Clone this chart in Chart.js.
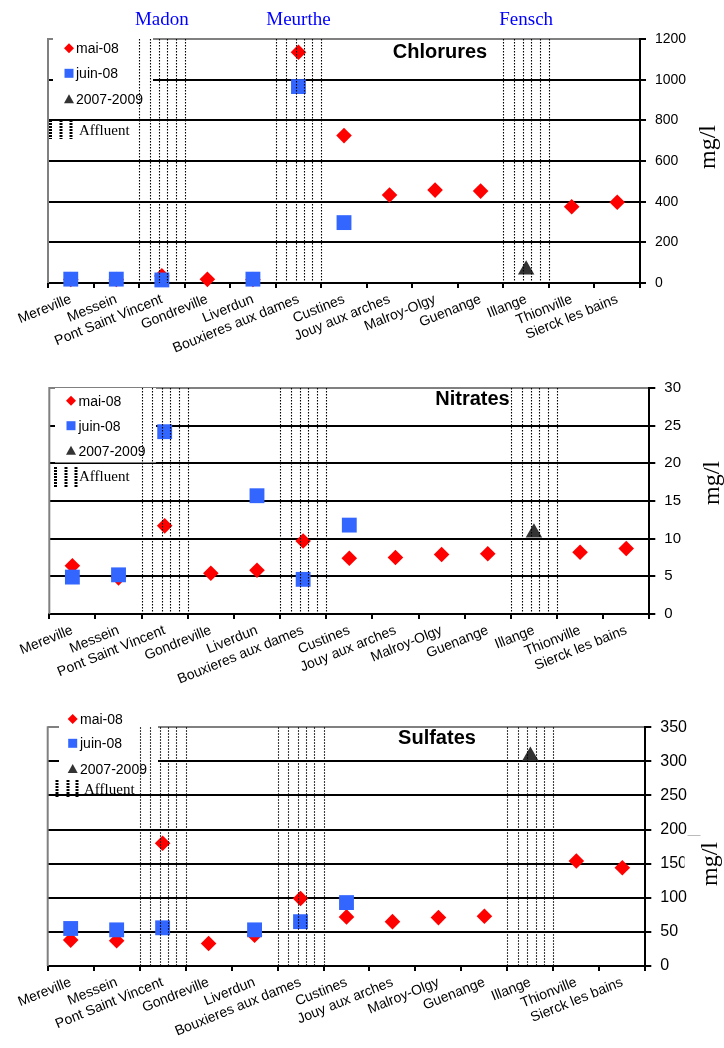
<!DOCTYPE html>
<html>
<head>
<meta charset="utf-8">
<script src="https://cdn.jsdelivr.net/npm/chart.js@4.4.0/dist/chart.umd.min.js"></script>
<style>
  html, body { margin: 0; padding: 0; background: #fff; }
  #page { position: relative; width: 724px; height: 1048px; }
  .panel { position: absolute; left: 0; width: 724px; }
</style>
</head>
<body>
<div id="page">
  <div class="panel" style="top:0;height:370px"><canvas id="chlorures"></canvas></div>
  <div class="panel" style="top:370px;height:330px"><canvas id="nitrates"></canvas></div>
  <div class="panel" style="top:700px;height:348px"><canvas id="sulfates"></canvas></div>
</div>
<script>
const SITES = [
  "Mereville", "Messein", "Pont Saint Vincent", "Gondreville", "Liverdun",
  "Bouxieres aux dames", "Custines", "Jouy aux arches", "Malroy-Olgy",
  "Guenange", "Illange", "Thionville", "Sierck les bains"
];
const SERIES_NAMES = ["mai-08", "juin-08", "2007-2009"];
const AFFLUENT_LABEL = "Affluent";
const RIVERS = ["Madon", "Meurthe", "Fensch"];
const RIVER_SITES = [2, 5, 10]; // tributary confluences (site index)

// Chlorures (mg/l)
const CHLORURES_MAI  = [17, 17, 35, 18, 17, 1135, 725, 433, 457, 452, null, 375, 397];
const CHLORURES_JUIN = [19, 19, 15, null, 19, 966, 297, null, null, null, null, null, null];
const CHLORURES_REF  = [null, null, null, null, null, null, null, null, null, null, 65, null, null];
const CHLORURES_TICKS = [0, 200, 400, 600, 800, 1000, 1200];

// Nitrates (mg/l)
const NITRATES_MAI  = [6.4, 4.8, 11.7, 5.4, 5.8, 9.7, 7.4, 7.5, 7.9, 8.0, null, 8.2, 8.7];
const NITRATES_JUIN = [4.9, 5.2, 24.2, null, 15.7, 4.6, 11.8, null, null, null, null, null, null];
const NITRATES_REF  = [null, null, null, null, null, null, null, null, null, null, 10.8, null, null];
const NITRATES_TICKS = [0, 5, 10, 15, 20, 25, 30];

// Sulfates (mg/l)
const SULFATES_MAI  = [38, 37, 180, 33, 45, 99, 72, 65, 71, 73, null, 154, 144];
const SULFATES_JUIN = [55, 53, 56, null, 53, 65, 93, null, null, null, null, null, null];
const SULFATES_REF  = [null, null, null, null, null, null, null, null, null, null, 308, null, null];
const SULFATES_TICKS = [0, 50, 100, 150, 200, 250, 300, 350];

const SANS = '"Liberation Sans", Arial, sans-serif';
const SERIF = '"Liberation Serif", "Times New Roman", serif';
const RED = '#ff0000';
const BLUE = '#3366ff';
const DARK = '#333333';
const DOT_FRACTIONS = [0, 0.235, 0.435, 0.615, 0.8, 1.0];

function marker(ctx, kind, x, y, r) {
  ctx.beginPath();
  if (kind === 'diamond') {
    ctx.fillStyle = RED;
    ctx.moveTo(x, y - r); ctx.lineTo(x + r, y); ctx.lineTo(x, y + r); ctx.lineTo(x - r, y);
  } else if (kind === 'square') {
    ctx.fillStyle = BLUE;
    ctx.rect(x - r, y - r, 2 * r, 2 * r);
  } else {
    ctx.fillStyle = DARK;
    ctx.moveTo(x, y - r); ctx.lineTo(x + r, y + r * 0.8); ctx.lineTo(x - r, y + r * 0.8);
  }
  ctx.closePath();
  ctx.fill();
}

const decorPlugin = {
  id: 'decor',
  beforeDatasetsDraw(chart, args, o) {
    const { ctx, chartArea: a } = chart;
    ctx.save();
    ctx.translate(0, -o.offsetY);
    const top = a.top + o.offsetY, bottom = a.bottom + o.offsetY;
    // grey left frame
    ctx.strokeStyle = '#808080';
    ctx.lineWidth = 2;
    ctx.beginPath(); ctx.moveTo(a.left, top - 1); ctx.lineTo(a.left, bottom); ctx.stroke();
    // legend box
    const L = o.legend;
    ctx.fillStyle = '#fff';
    ctx.fillRect(L.box[0], L.box[1], L.box[2] - L.box[0], L.box[3] - L.box[1]);
    const kinds = ['diamond', 'square', 'triangle'];
    const sizes = [5, 4.5, 5];
    ctx.font = '14px ' + SANS;
    ctx.textBaseline = 'middle';
    ctx.textAlign = 'left';
    SERIES_NAMES.forEach((name, i) => {
      marker(ctx, kinds[i], L.mx, L.ys[i], sizes[i]);
      ctx.fillStyle = '#000';
      ctx.fillText(name, L.tx, L.ys[i] + 1);
    });
    // affluent symbol
    ctx.strokeStyle = '#000';
    ctx.lineWidth = 3;
    ctx.setLineDash([2, 1]);
    L.ax.forEach(x => {
      ctx.beginPath(); ctx.moveTo(x, L.ay[0]); ctx.lineTo(x, L.ay[1]); ctx.stroke();
    });
    ctx.setLineDash([]);
    ctx.fillStyle = '#000';
    ctx.font = '15px ' + SERIF;
    ctx.fillText(AFFLUENT_LABEL, L.atx, L.aty);
    ctx.restore();
  },
  afterDatasetsDraw(chart) {
    const { ctx, chartArea: a, scales: { x } } = chart;
    ctx.save();
    ctx.strokeStyle = '#000';
    ctx.lineWidth = 1.1;
    ctx.setLineDash([1.5, 1.5]);
    RIVER_SITES.forEach(i => {
      DOT_FRACTIONS.forEach(f => {
        const px = Math.round(x.getPixelForValue(i - 0.5 + f)) + 0.5;
        ctx.beginPath(); ctx.moveTo(px, a.top); ctx.lineTo(px, a.bottom); ctx.stroke();
      });
    });
    ctx.restore();
  },
  afterDraw(chart, args, o) {
    const { ctx, scales: { x } } = chart;
    ctx.save();
    ctx.translate(0, -o.offsetY);
    // white patch behind the unit label (covers part of a tick label)
    if (o.mask) {
      const m = o.mask;
      ctx.fillStyle = '#fff';
      ctx.fillRect(m[0], m[1], m[2] - m[0], m[3] - m[1]);
      ctx.strokeStyle = '#bbbbbb';
      ctx.lineWidth = 1;
      ctx.beginPath(); ctx.moveTo(m[0] + 3, m[1] - 0.5); ctx.lineTo(m[0] + 16, m[1] - 0.5); ctx.stroke();
    }
    // title
    ctx.fillStyle = '#000';
    ctx.font = 'bold 20px ' + SANS;
    ctx.textAlign = 'center';
    ctx.textBaseline = 'middle';
    ctx.fillText(o.title.text, o.title.x, o.title.y);
    // unit
    ctx.save();
    ctx.translate(o.unit.x, o.unit.y);
    ctx.rotate(-Math.PI / 2);
    ctx.font = '24px ' + SERIF;
    ctx.fillText('mg/l', 0, 0);
    ctx.restore();
    // river names
    if (o.rivers) {
      ctx.fillStyle = '#0000ff';
      ctx.font = '19px ' + SERIF;
      RIVERS.forEach((r, k) => {
        ctx.fillText(r, x.getPixelForValue(RIVER_SITES[k]), o.rivers.y);
      });
    }
    ctx.restore();
  }
};

function buildPanel(id, d) {
  const maxV = d.ticks[d.ticks.length - 1];
  return new Chart(document.getElementById(id), {
    type: 'line',
    data: {
      labels: SITES,
      datasets: [
        {
          label: SERIES_NAMES[1], data: d.juin, order: 0,
          showLine: false, pointStyle: 'rect', pointRadius: 10.5, pointHoverRadius: 10.5,
          backgroundColor: BLUE, borderColor: BLUE, pointBorderWidth: 0, clip: false
        },
        {
          label: SERIES_NAMES[0], data: d.mai, order: 1,
          showLine: false, pointStyle: 'rectRot', pointRadius: 7.8, pointHoverRadius: 7.8,
          backgroundColor: RED, borderColor: RED, pointBorderWidth: 0, clip: false
        },
        {
          label: SERIES_NAMES[2], data: d.ref, order: 2,
          showLine: false, pointStyle: 'triangle', pointRadius: 9.5, pointHoverRadius: 9.5,
          backgroundColor: DARK, borderColor: DARK, pointBorderWidth: 0, clip: false
        }
      ]
    },
    plugins: [decorPlugin],
    options: {
      responsive: true,
      maintainAspectRatio: false,
      animation: false,
      events: [],
      layout: { padding: { left: d.left, top: d.top, right: 0, bottom: 0 } },
      plugins: {
        legend: { display: false },
        tooltip: { enabled: false },
        decor: d.decor
      },
      scales: {
        x: {
          type: 'category',
          offset: true,
          grid: { offset: true, drawOnChartArea: false, drawTicks: true, tickLength: 5, tickColor: '#000', lineWidth: 2 },
          border: { display: true, color: '#000', width: 2 },
          ticks: {
            autoSkip: false, maxRotation: 22, minRotation: 22, padding: 3,
            color: '#000', font: { family: SANS, size: 14 }
          },
          afterFit(s) { s.height = d.xHeight; }
        },
        y: {
          position: 'right',
          min: d.ticks[0],
          max: maxV,
          ticks: {
            stepSize: d.ticks[1] - d.ticks[0], padding: 9,
            color: '#000', font: { family: SANS, size: d.tickSize },
            callback: v => String(v)
          },
          grid: {
            color: c => (c.tick && c.tick.value === maxV) ? '#808080' : '#000',
            lineWidth: 2, drawTicks: true, tickLength: 6, tickColor: '#000'
          },
          border: { display: true, color: '#000', width: 2 },
          afterFit(s) { s.width = d.yWidth; }
        }
      }
    }
  });
}

buildPanel('chlorures', {
  mai: CHLORURES_MAI, juin: CHLORURES_JUIN, ref: CHLORURES_REF, ticks: CHLORURES_TICKS,
  left: 48, top: 39, xHeight: 87, yWidth: 84, tickSize: 14,
  decor: {
    offsetY: 0,
    legend: { box: [53, 28, 153, 112], mx: 69, tx: 76, ys: [48.3, 73.3, 99.3],
              ax: [50.5, 61, 71], ay: [120, 139], atx: 79, aty: 131 },
    title: { text: 'Chlorures', x: 440, y: 52 },
    unit: { x: 709, y: 147 },
    rivers: { y: 20 }
  }
});

buildPanel('nitrates', {
  mai: NITRATES_MAI, juin: NITRATES_JUIN, ref: NITRATES_REF, ticks: NITRATES_TICKS,
  left: 49.3, top: 16.3, xHeight: 86, yWidth: 74.7, tickSize: 15,
  decor: {
    offsetY: 370,
    legend: { box: [55, 388, 156, 462.5], mx: 71, tx: 78.5, ys: [400.7, 425.7, 450.7],
              ax: [55.5, 66, 76], ay: [467, 488], atx: 79, aty: 477 },
    title: { text: 'Nitrates', x: 472.5, y: 399 },
    unit: { x: 713, y: 483 }
  }
});

buildPanel('sulfates', {
  mai: SULFATES_MAI, juin: SULFATES_JUIN, ref: SULFATES_REF, ticks: SULFATES_TICKS,
  left: 47.7, top: 27.3, xHeight: 82, yWidth: 78.7, tickSize: 16,
  decor: {
    offsetY: 700,
    legend: { box: [59, 708, 158, 778], mx: 72.7, tx: 80, ys: [719, 743.3, 769],
              ax: [57, 68, 77], ay: [780, 798], atx: 84, aty: 790 },
    title: { text: 'Sulfates', x: 437, y: 738 },
    unit: { x: 711, y: 864 },
    mask: [684.5, 836, 724, 887]
  }
});
</script>
</body>
</html>
